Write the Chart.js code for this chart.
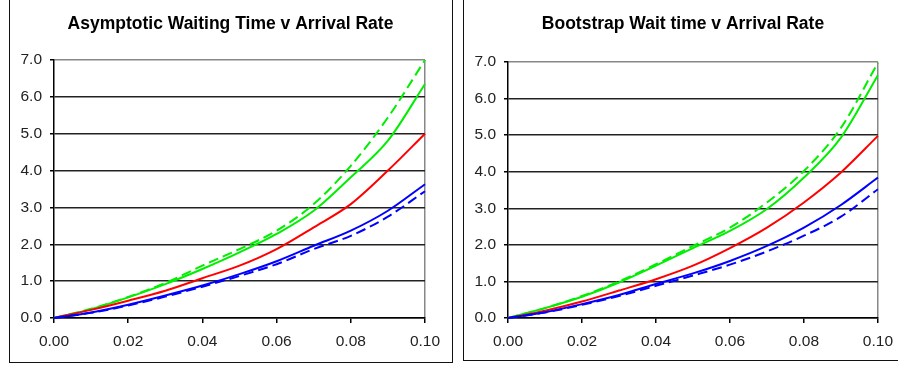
<!DOCTYPE html>
<html>
<head>
<meta charset="utf-8">
<script src="https://cdn.jsdelivr.net/npm/chart.js@4.4.1/dist/chart.umd.min.js"></script>
<style>
    html, body { margin: 0; padding: 0; background: #fff; }
    body { width: 898px; height: 366px; position: relative; overflow: hidden; }
    .panel { position: absolute; border: 1px solid #111; background: #fff; overflow: hidden; }
    #leftPanel { left: 9px; top: -2px; width: 442px; height: 363px; }
    #rightPanel { left: 463px; top: -2px; width: 450px; height: 361px; }
    canvas { position: absolute; left: 0; top: 2px; }
</style>
</head>
<body>
<div class="panel" id="leftPanel"><canvas id="asymChart" width="441" height="360"></canvas></div>
<div class="panel" id="rightPanel"><canvas id="bootChart" width="438" height="358"></canvas></div>
<script>
// Arrival rates (x axis)
const rates = [0, 0.01, 0.02, 0.03, 0.04, 0.05, 0.06, 0.07, 0.08, 0.09, 0.10];

// Asymptotic waiting time
const asymGreen     = [0, 0.24, 0.56, 0.92, 1.33, 1.78, 2.28, 2.91, 3.82, 4.81, 6.35];
const asymGreenDash = [0, 0.25, 0.57, 0.95, 1.42, 1.87, 2.37, 3.09, 4.13, 5.44, 7.00];
const asymRed       = [0, 0.22, 0.47, 0.74, 1.08, 1.42, 1.87, 2.46, 3.09, 4.00, 5.00];
const asymBlue      = [0, 0.15, 0.36, 0.61, 0.88, 1.19, 1.54, 1.96, 2.37, 2.91, 3.63];
const asymBlueDash  = [0, 0.14, 0.34, 0.58, 0.85, 1.14, 1.46, 1.87, 2.23, 2.75, 3.44];

// Bootstrap wait time
const bootGreen     = [0, 0.27, 0.58, 0.97, 1.43, 1.91, 2.38, 2.98, 3.84, 4.93, 6.64];
const bootGreenDash = [0, 0.27, 0.60, 1.00, 1.47, 1.97, 2.47, 3.16, 4.02, 5.20, 6.98];
const bootRed       = [0, 0.20, 0.45, 0.75, 1.06, 1.43, 1.91, 2.47, 3.16, 3.98, 4.98];
const bootBlue      = [0, 0.16, 0.38, 0.63, 0.93, 1.22, 1.56, 1.97, 2.47, 3.09, 3.84];
const bootBlueDash  = [0, 0.15, 0.36, 0.60, 0.88, 1.16, 1.46, 1.82, 2.25, 2.77, 3.52];

const colors = {
    green: '#00ee00',
    red: '#ff0000',
    blue: '#0000ff',
    grid: '#222222',
    frame: '#888888'
};

const fontFamily = "'Liberation Sans', Arial, sans-serif";

function series(values, color, dashed) {
    return {
        data: values.map((v, i) => ({ x: rates[i], y: v })),
        borderColor: color,
        borderWidth: 2,
        borderDash: dashed ? [10, 5] : [],
        pointRadius: 0,
        cubicInterpolationMode: 'monotone',
        fill: false,
        clip: 4
    };
}

// an empty right-hand axis keeps the title centred on the whole panel
function makeChart(id, title, sets, pad) {
    return new Chart(document.getElementById(id), {
        type: 'line',
        data: { datasets: sets },
        options: {
            responsive: false,
            animation: false,
            devicePixelRatio: 1,
            layout: { padding: { left: 0, right: 0, top: 0, bottom: pad.bottom } },
            plugins: {
                legend: { display: false },
                tooltip: { enabled: false },
                title: {
                    display: true,
                    text: title,
                    color: '#000',
                    font: { family: fontFamily, size: 17.5, weight: 'bold', lineHeight: 1.2 },
                    padding: { top: pad.titleTop, bottom: pad.titleBottom }
                }
            },
            scales: {
                x: {
                    type: 'linear',
                    min: 0,
                    max: 0.1,
                    afterFit: s => { s.height = 30; },
                    border: { display: true, color: '#000', width: 1.5 },
                    grid: {
                        drawOnChartArea: true,
                        color: ctx => ctx.index === 5 ? colors.frame : 'rgba(0,0,0,0)',
                        tickColor: '#000',
                        tickLength: 5,
                        lineWidth: 1.5
                    },
                    ticks: {
                        stepSize: 0.02,
                        padding: 9,
                        color: '#222',
                        font: { family: fontFamily, size: 15.5 },
                        callback: v => v.toFixed(2)
                    }
                },
                y: {
                    min: 0,
                    max: 7,
                    afterFit: s => { s.width = 44; },
                    border: { display: true, color: '#000', width: 1.5 },
                    grid: {
                        color: ctx => ctx.tick && ctx.tick.value === 7 ? colors.frame : colors.grid,
                        tickColor: '#000',
                        tickLength: 4,
                        lineWidth: 1.5
                    },
                    ticks: {
                        stepSize: 1,
                        padding: 8,
                        color: '#222',
                        font: { family: fontFamily, size: 15.5 },
                        callback: v => v.toFixed(1)
                    }
                },
                yRight: {
                    position: 'right',
                    display: true,
                    min: 0,
                    max: 7,
                    afterFit: s => { s.width = pad.rightSpace; },
                    border: { display: false },
                    grid: { display: false },
                    ticks: { display: false }
                }
            }
        }
    });
}

makeChart('asymChart', 'Asymptotic Waiting Time v Arrival Rate', [
    series(asymBlueDash, colors.blue, true),
    series(asymBlue, colors.blue, false),
    series(asymRed, colors.red, false),
    series(asymGreenDash, colors.green, true),
    series(asymGreen, colors.green, false)
], { rightSpace: 26, bottom: 13, titleTop: 13, titleBottom: 25 });

makeChart('bootChart', 'Bootstrap Wait time v Arrival Rate', [
    series(bootBlueDash, colors.blue, true),
    series(bootBlue, colors.blue, false),
    series(bootRed, colors.red, false),
    series(bootGreenDash, colors.green, true),
    series(bootGreen, colors.green, false)
], { rightSpace: 24, bottom: 11, titleTop: 13, titleBottom: 27 });
</script>
</body>
</html>
